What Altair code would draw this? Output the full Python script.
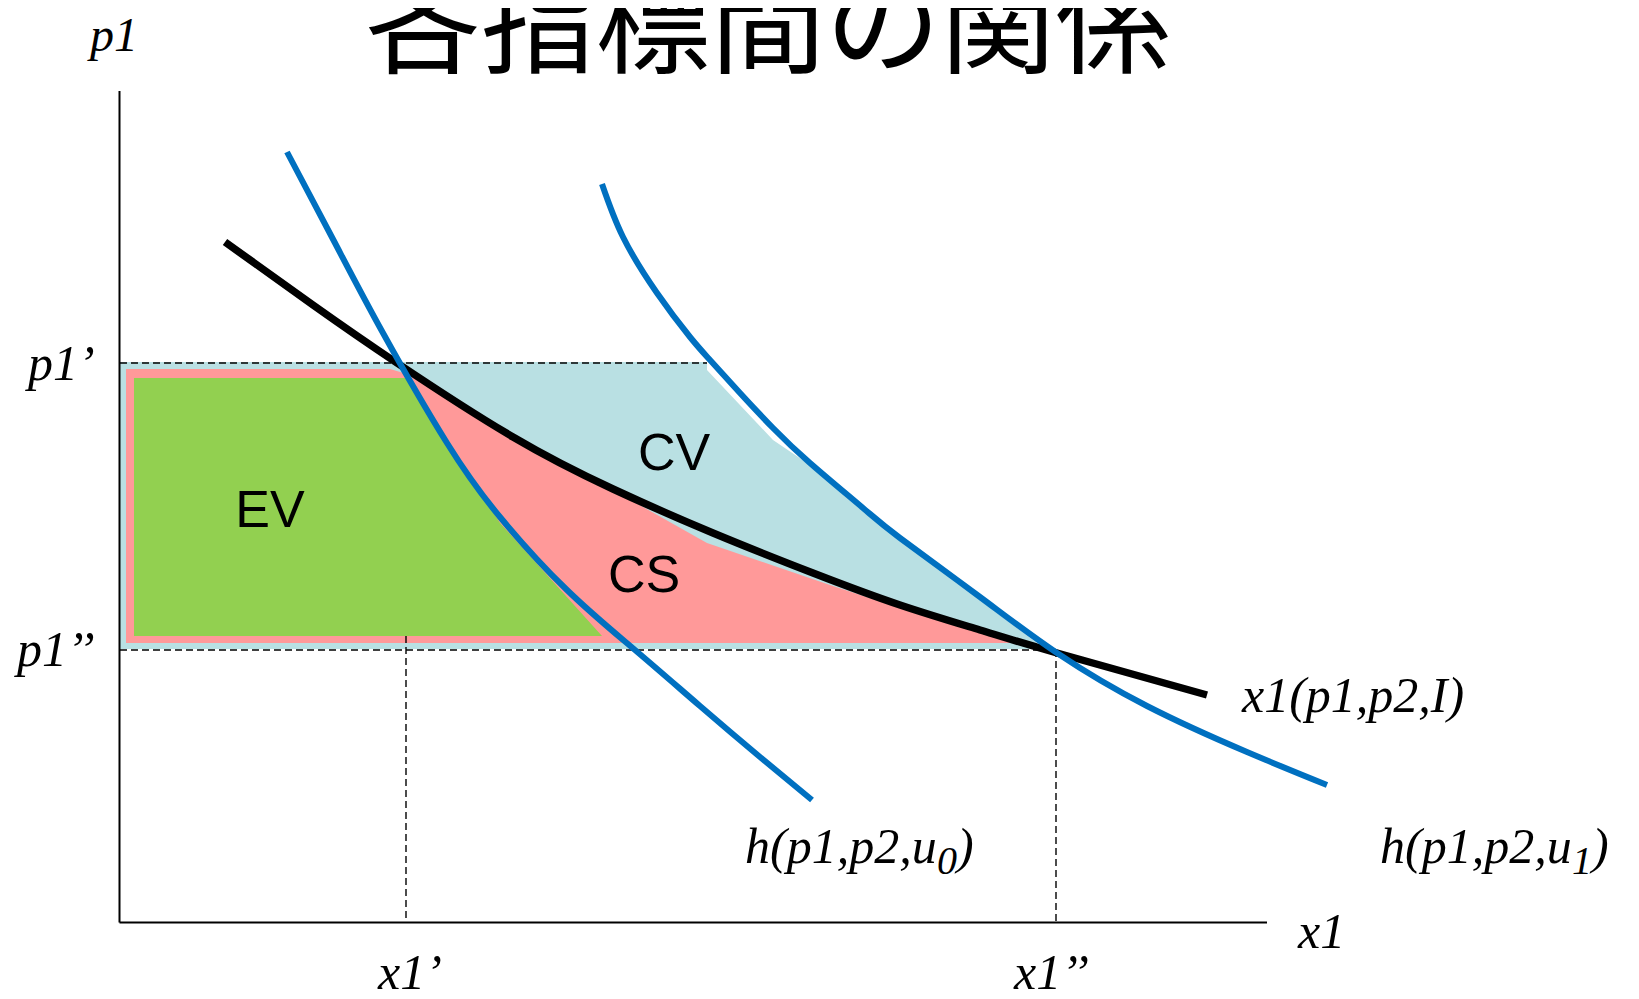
import altair as alt
import pandas as pd

# All positions are read off the reference picture, in its pixel grid
# (x grows to the right, y grows downward).

title_text = "各指標間の関係"

# Marshallian demand x1(p1,p2,I)  (black)
dem_x = [225, 313, 397, 513, 613, 713, 813, 900, 980, 1057, 1207]
dem_y = [242, 305, 363, 437, 489, 533, 573, 605, 630, 653, 695]

# Hicksian demand h(p1,p2,u0)  (blue, left)
h0_x = [287, 335, 383, 447, 500, 567, 635, 700, 760, 812]
h0_y = [152, 243, 333, 443, 517, 590, 650, 706, 757, 800]

# Hicksian demand h(p1,p2,u1)  (blue, right)
h1_x = [602, 623, 657, 690, 710, 740, 773, 810, 863, 900, 980, 1057, 1147, 1247, 1327]
h1_y = [184, 237, 293, 337, 360, 393, 428, 463, 508, 538, 597, 653, 706, 752, 785]

# CV area (light blue): left edge and right edge per row
cv_y = [362, 370, 440, 467, 508, 538, 597, 643, 649]
cv_left = [119, 119, 119, 119, 119, 119, 119, 119, 119]
cv_right = [707, 707, 773, 813, 860, 897, 976, 1037, 1036]

# CS area (pink)
cs_y = [369, 374, 543, 585, 608, 643]
cs_left = [126, 126, 126, 126, 126, 126]
cs_right = [390, 407, 707, 830, 900, 1032]

# EV area (green)
ev_y = [378, 523, 636]
ev_left = [134, 134, 134]
ev_right = [407, 500, 602]

# dashed guide lines
dash_x = [120, 120, 406, 1056]
dash_x2 = [707, 1056, 406, 1056]
dash_y = [363, 650, 636, 650]
dash_y2 = [363, 650, 923, 923]

# axes lines
ax_x = [119.5, 119.5]
ax_x2 = [119.5, 1267]
ax_y = [91, 922.5]
ax_y2 = [922.5, 922.5]

# italic serif labels
lab_text = ["p1’", "p1’’", "x1’", "x1’’", "x1", "x1(p1,p2,I)",
            "h(p1,p2,u", ")", "h(p1,p2,u", ")"]
lab_x = [28, 17, 378, 1014, 1298, 1242, 745, 957, 1380, 1592]
lab_y = [380, 666, 989, 989, 948, 712, 863, 863, 863, 863]

# axis name of the vertical axis
p1_text = ["p1"]
p1_x = [90]
p1_y = [51]

sub_text = ["0", "1"]
sub_x = [937, 1572]
sub_y = [874, 874]

# area names
area_text = ["EV", "CV", "CS"]
area_x = [270, 674, 644]
area_y = [527, 470, 592]

title_x = [768]
title_y = [64]

X = alt.Scale(domain=[8, 1631], nice=False, zero=False)
Y = alt.Scale(domain=[8, 999], nice=False, zero=False, reverse=True)


def xq(f):
    return alt.X(f, type="quantitative", scale=X, axis=None)


def yq(f):
    return alt.Y(f, type="quantitative", scale=Y, axis=None)


def area_layer(ys, left, right, color):
    df = pd.DataFrame({"y": ys, "xl": left, "xr": right})
    return alt.Chart(df).mark_area(orient="horizontal", color=color, opacity=1).encode(
        y=yq("y"), x=xq("xl"), x2="xr"
    )


def curve(xs, ys, color, width):
    df = pd.DataFrame({"x": xs, "y": ys})
    return alt.Chart(df).mark_line(
        color=color, strokeWidth=width, interpolate="natural", strokeCap="butt"
    ).encode(x=xq("x"), y=yq("y"))


def serif(texts, xs, ys, size):
    df = pd.DataFrame({"t": texts, "x": xs, "y": ys})
    return alt.Chart(df).mark_text(
        align="left", baseline="alphabetic", font="Liberation Serif",
        fontStyle="italic", fontSize=size, color="black"
    ).encode(x=xq("x"), y=yq("y"), text="t:N")


cv = area_layer(cv_y, cv_left, cv_right, "#B9E0E3")
cs = area_layer(cs_y, cs_left, cs_right, "#FF9999")
ev = area_layer(ev_y, ev_left, ev_right, "#92D050")

dash_df = pd.DataFrame({"x": dash_x, "x2": dash_x2, "y": dash_y, "y2": dash_y2})
dashes = alt.Chart(dash_df).mark_rule(
    color="black", strokeWidth=1.4, strokeDash=[7, 4]
).encode(x=xq("x"), x2="x2", y=yq("y"), y2="y2")

ax_df = pd.DataFrame({"x": ax_x, "x2": ax_x2, "y": ax_y, "y2": ax_y2})
axes = alt.Chart(ax_df).mark_rule(color="black", strokeWidth=2).encode(
    x=xq("x"), x2="x2", y=yq("y"), y2="y2"
)

demand = curve(dem_x, dem_y, "black", 7.5)
hick0 = curve(h0_x, h0_y, "#0070C0", 6)
hick1 = curve(h1_x, h1_y, "#0070C0", 6)

labels = serif(lab_text, lab_x, lab_y, 50)
p1_label = serif(p1_text, p1_x, p1_y, 48)
subs = serif(sub_text, sub_x, sub_y, 40)

area_df = pd.DataFrame({"t": area_text, "x": area_x, "y": area_y})
area_labels = alt.Chart(area_df).mark_text(
    align="center", baseline="alphabetic", font="Liberation Sans",
    fontSize=52, color="black"
).encode(x=xq("x"), y=yq("y"), text="t:N")

title_df = pd.DataFrame({"t": [title_text], "x": title_x, "y": title_y})
title = alt.Chart(title_df).mark_text(
    align="center", baseline="alphabetic", font="Noto Sans CJK JP",
    fontWeight="normal", fontSize=115, color="black"
).encode(x=xq("x"), y=yq("y"), text="t:N")

chart = alt.layer(
    cv, cs, ev, dashes, axes, demand, hick0, hick1,
    area_labels, labels, p1_label, subs, title
).properties(
    width=1623, height=991, padding=0,
    autosize=alt.AutoSizeParams(type="none"),
    background="white",
).configure_view(strokeWidth=0)

chart.save("out.html", embed_options={"renderer": "svg", "actions": False})
